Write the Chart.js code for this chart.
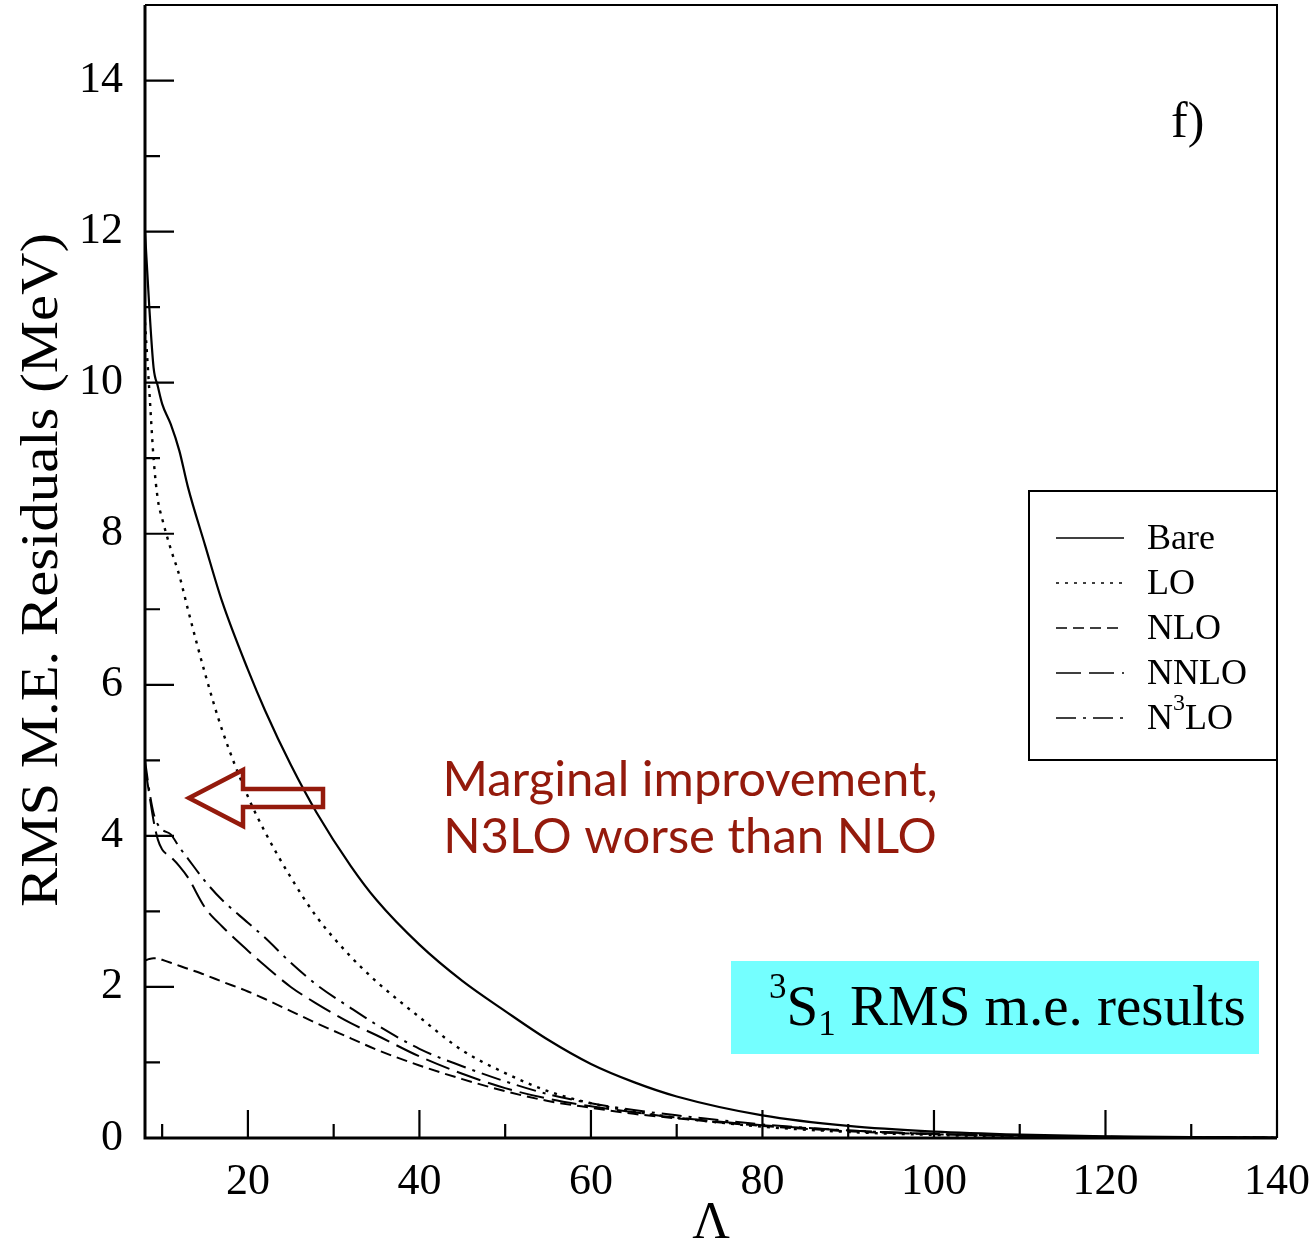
<!DOCTYPE html>
<html>
<head>
<meta charset="utf-8">
<script src="https://cdn.jsdelivr.net/npm/chart.js@4/dist/chart.umd.min.js"></script>
<style>
  html, body { margin: 0; padding: 0; background: #ffffff; }
  #wrap { width: 1315px; height: 1250px; position: relative; }
</style>
</head>
<body>
<div id="wrap"><canvas id="chart"></canvas></div>
<script>
// Cutoff values Λ shared by every curve
const LAMBDA = [8, 8.5, 9, 9.5, 10, 11, 12, 13, 15, 17, 20, 22, 25, 28, 32, 35, 40, 45, 50, 55, 60, 65, 70, 80, 90, 100, 110, 120, 130, 140];

// RMS matrix-element residuals (MeV) for each order
const BARE = [12.0, 11.0, 10.2, 9.95, 9.72, 9.45, 9.1, 8.62, 7.85, 7.1, 6.2, 5.66, 4.94, 4.31, 3.6, 3.15, 2.56, 2.08, 1.68, 1.3, 0.98, 0.74, 0.55, 0.3, 0.16, 0.085, 0.045, 0.023, 0.012, 0.006];
const LO   = [10.8, 9.9, 9.0, 8.45, 8.2, 7.8, 7.45, 7.0, 6.15, 5.4, 4.52, 4.05, 3.45, 2.93, 2.4, 2.07, 1.6, 1.16, 0.86, 0.62, 0.46, 0.35, 0.27, 0.15, 0.08, 0.04, 0.02, 0.01, 0.005, 0.003];
const NLO  = [2.35, 2.37, 2.38, 2.38, 2.36, 2.32, 2.28, 2.24, 2.16, 2.07, 1.94, 1.84, 1.68, 1.52, 1.32, 1.17, 0.96, 0.78, 0.62, 0.49, 0.4, 0.32, 0.26, 0.16, 0.09, 0.05, 0.028, 0.015, 0.008, 0.004];
const NNLO = [4.92, 4.55, 4.2, 3.95, 3.82, 3.72, 3.6, 3.45, 3.05, 2.8, 2.48, 2.28, 2.0, 1.78, 1.52, 1.36, 1.08, 0.85, 0.66, 0.52, 0.42, 0.34, 0.27, 0.17, 0.1, 0.055, 0.03, 0.016, 0.008, 0.004];
const N3LO = [5.0, 4.6, 4.3, 4.15, 4.08, 4.02, 3.85, 3.7, 3.4, 3.15, 2.85, 2.65, 2.32, 2.03, 1.72, 1.5, 1.18, 0.95, 0.75, 0.58, 0.46, 0.37, 0.3, 0.18, 0.1, 0.055, 0.03, 0.016, 0.008, 0.004];

// Axis ticks
const X_LABEL_TICKS = [20, 40, 60, 80, 100, 120, 140];
const X_MINOR_TICKS = [10, 30, 50, 70, 90, 110, 130];
const Y_LABEL_TICKS = [0, 2, 4, 6, 8, 10, 12, 14];
const Y_MINOR_TICKS = [1, 3, 5, 7, 9, 11, 13];

// Legend labels (the last one carries a superscript)
const SERIES_NAMES = ['Bare', 'LO', 'NLO', 'NNLO', 'N3LO'];

const SERIF = "'Liberation Serif', 'Times New Roman', serif";
const SANS = "Lato, 'Open Sans', sans-serif";
const RED = '#941a0c';

function pts(ys) { return LAMBDA.map((x, i) => ({ x: x, y: ys[i] })); }

const lineBase = {
  borderColor: '#000000',
  borderWidth: 2,
  pointRadius: 0,
  fill: false,
  cubicInterpolationMode: 'monotone'
};

const datasets = [
  Object.assign({}, lineBase, { label: SERIES_NAMES[0], data: pts(BARE), borderDash: [], borderWidth: 2.2 }),
  Object.assign({}, lineBase, { label: SERIES_NAMES[1], data: pts(LO), borderDash: [3, 6], borderWidth: 2.4 }),
  Object.assign({}, lineBase, { label: SERIES_NAMES[2], data: pts(NLO), borderDash: [11, 6] }),
  Object.assign({}, lineBase, { label: SERIES_NAMES[3], data: pts(NNLO), borderDash: [25, 8] }),
  Object.assign({}, lineBase, { label: SERIES_NAMES[4], data: pts(N3LO), borderDash: [20, 7, 3, 7] })
];

// Frame, inward tick marks, legend box, y title and annotations
const decorations = {
  id: 'decorations',
  afterDatasetsDraw(chart) {
    const ctx = chart.ctx;
    const a = chart.chartArea;
    const xs = chart.scales.x, ys = chart.scales.y;
    ctx.save();

    // cyan caption box
    ctx.fillStyle = '#74ffff';
    ctx.fillRect(731, 961, 528, 93);
    ctx.fillStyle = '#000';
    ctx.textBaseline = 'alphabetic';
    ctx.textAlign = 'left';
    let cx = 769, by = 1025;
    ctx.font = '35px ' + SERIF;
    ctx.fillText('3', cx, by - 27);
    cx += ctx.measureText('3').width;
    ctx.font = '57px ' + SERIF;
    ctx.fillText('S', cx, by);
    cx += ctx.measureText('S').width;
    ctx.font = '35px ' + SERIF;
    ctx.fillText('1', cx, by + 10);
    cx += ctx.measureText('1').width;
    ctx.font = '57px ' + SERIF;
    ctx.fillText(' RMS m.e. results', cx, by);

    // panel tag
    ctx.font = '50px ' + SERIF;
    ctx.fillText('f)', 1171, 137);

    // y-axis title, set tall like the rest of the lettering
    ctx.save();
    ctx.translate(43, 570);
    ctx.rotate(-Math.PI / 2);
    ctx.scale(1.13, 1);
    ctx.font = '52px ' + SERIF;
    ctx.textAlign = 'center';
    ctx.textBaseline = 'middle';
    ctx.fillText('RMS M.E. Residuals (MeV)', 0, 0);
    ctx.restore();

    // frame
    ctx.strokeStyle = '#000';
    ctx.setLineDash([]);
    ctx.lineWidth = 2;
    ctx.beginPath();
    ctx.moveTo(a.left, a.top); ctx.lineTo(a.right, a.top); ctx.lineTo(a.right, a.bottom);
    ctx.stroke();
    ctx.lineWidth = 3;
    ctx.beginPath();
    ctx.moveTo(a.left, a.top); ctx.lineTo(a.left, a.bottom); ctx.lineTo(a.right, a.bottom);
    ctx.stroke();

    // tick marks pointing into the plot
    ctx.lineWidth = 2.2;
    ctx.beginPath();
    X_LABEL_TICKS.forEach(v => { const px = xs.getPixelForValue(v); ctx.moveTo(px, a.bottom); ctx.lineTo(px, a.bottom - 28); });
    X_MINOR_TICKS.forEach(v => { const px = xs.getPixelForValue(v); ctx.moveTo(px, a.bottom); ctx.lineTo(px, a.bottom - 14); });
    Y_LABEL_TICKS.forEach(v => { const py = ys.getPixelForValue(v); ctx.moveTo(a.left, py); ctx.lineTo(a.left + 29, py); });
    Y_MINOR_TICKS.forEach(v => { const py = ys.getPixelForValue(v); ctx.moveTo(a.left, py); ctx.lineTo(a.left + 15, py); });
    ctx.stroke();

    // legend
    const lx = 1029, ly = 491, lw = 248, lh = 269;
    ctx.fillStyle = '#fff';
    ctx.fillRect(lx, ly, lw, lh);
    ctx.lineWidth = 2;
    ctx.strokeRect(lx, ly, lw, lh);
    chart.data.datasets.forEach((ds, i) => {
      const y = 540 + i * 45;
      ctx.setLineDash(ds.borderDash || []);
      ctx.lineWidth = 1.6;
      ctx.beginPath();
      ctx.moveTo(1056, y - 2); ctx.lineTo(1124, y - 2);
      ctx.stroke();
      ctx.setLineDash([]);
      ctx.fillStyle = '#000';
      ctx.font = '36px ' + SERIF;
      ctx.textBaseline = 'middle';
      const name = ds.label;
      if (name === 'N3LO') {
        ctx.fillText('N', 1147, y);
        const w = ctx.measureText('N').width;
        ctx.font = '24px ' + SERIF;
        ctx.fillText('3', 1147 + w, y - 16);
        const w2 = ctx.measureText('3').width;
        ctx.font = '36px ' + SERIF;
        ctx.fillText('LO', 1147 + w + w2, y);
      } else {
        ctx.fillText(name, 1147, y);
      }
    });

    // red remark with hollow arrow
    ctx.fillStyle = RED;
    ctx.font = '49px ' + SANS;
    ctx.textAlign = 'center';
    ctx.textBaseline = 'alphabetic';
    ctx.fillText('Marginal improvement,', 690, 796);
    ctx.fillText('N3LO worse than NLO', 690, 853);

    ctx.strokeStyle = RED;
    ctx.lineWidth = 4.5;
    ctx.lineJoin = 'miter';
    ctx.beginPath();
    ctx.moveTo(189, 798);
    ctx.lineTo(243, 770);
    ctx.lineTo(243, 789);
    ctx.lineTo(323, 789);
    ctx.lineTo(323, 807);
    ctx.lineTo(243, 807);
    ctx.lineTo(243, 826);
    ctx.closePath();
    ctx.stroke();

    ctx.restore();
  }
};

new Chart(document.getElementById('chart'), {
  type: 'line',
  data: { datasets: datasets },
  plugins: [decorations],
  options: {
    responsive: true,
    maintainAspectRatio: false,
    animation: false,
    events: [],
    layout: { padding: { top: 5, right: 38, left: 0, bottom: 0 } },
    plugins: { legend: { display: false }, tooltip: { enabled: false } },
    scales: {
      x: {
        type: 'linear',
        min: 8,
        max: 140,
        afterBuildTicks: s => { s.ticks = X_LABEL_TICKS.map(v => ({ value: v })); },
        afterFit: s => { s.height = 112; s.paddingLeft = 0; s.paddingRight = 0; },
        grid: { display: false },
        border: { display: false },
        ticks: { color: '#000', font: { family: SERIF, size: 44 }, padding: 10, maxRotation: 0, autoSkip: false },
        title: { display: true, text: 'Λ', color: '#000', font: { family: SERIF, size: 52, lineHeight: 1 }, padding: { top: 0, bottom: 0 } }
      },
      y: {
        type: 'linear',
        min: 0,
        max: 15,
        afterBuildTicks: s => { s.ticks = Y_LABEL_TICKS.map(v => ({ value: v })); },
        afterFit: s => { s.width = 145; s.paddingTop = 0; s.paddingBottom = 0; },
        grid: { display: false },
        border: { display: false },
        ticks: { color: '#000', font: { family: SERIF, size: 44 }, padding: 14, autoSkip: false },
        title: { display: false }
      }
    }
  }
});
</script>
</body>
</html>
